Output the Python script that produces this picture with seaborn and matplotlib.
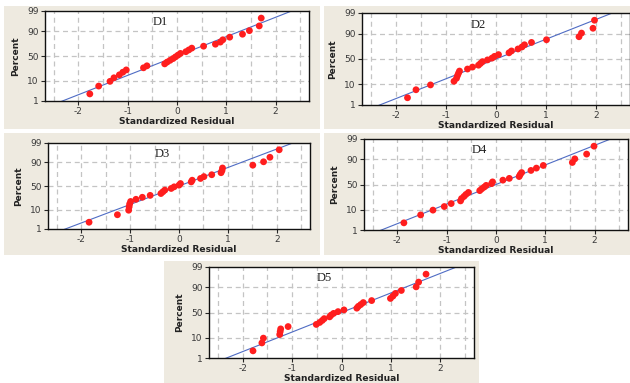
from statistics import NormalDist

import numpy as np
import pandas as pd
import seaborn as sns
from matplotlib import pyplot as plt
from matplotlib.patches import Rectangle

# plotting positions (percent) shared by all panels, 28 runs each
percent = [2.5, 6.0, 9.5, 13.0, 16.5, 20.1, 23.6, 27.1, 30.6, 34.2, 37.7, 41.2, 44.7, 48.2,
           51.8, 55.3, 58.8, 62.3, 65.8, 69.4, 72.9, 76.4, 79.9, 83.5, 87.0, 90.5, 94.0, 97.5]

# standardized residuals (sorted)
resid_d1 = [-1.77, -1.59, -1.36, -1.28, -1.17, -1.10, -1.03, -0.68, -0.61, -0.25, -0.20, -0.14, -0.08, -0.03,
            0.02, 0.07, 0.18, 0.24, 0.30, 0.54, 0.78, 0.88, 0.93, 1.07, 1.33, 1.47, 1.67, 1.71]
resid_d2 = [-1.77, -1.60, -1.31, -0.84, -0.79, -0.77, -0.75, -0.73, -0.57, -0.47, -0.35, -0.31, -0.27, -0.17,
            -0.08, -0.03, 0.05, 0.26, 0.31, 0.44, 0.52, 0.57, 0.71, 1.01, 1.66, 1.71, 1.94, 1.97]
resid_d3 = [-1.84, -1.26, -1.03, -1.02, -1.01, -0.99, -0.88, -0.75, -0.59, -0.37, -0.33, -0.29, -0.16, -0.10,
            0.00, 0.03, 0.25, 0.27, 0.44, 0.51, 0.67, 0.86, 0.88, 0.89, 1.51, 1.73, 1.86, 2.05]
resid_d4 = [-1.87, -1.53, -1.28, -1.05, -0.91, -0.72, -0.70, -0.65, -0.61, -0.56, -0.33, -0.29, -0.24, -0.20,
            -0.09, -0.07, 0.14, 0.27, 0.47, 0.49, 0.52, 0.71, 0.82, 0.96, 1.55, 1.60, 1.84, 1.99]
resid_d5 = [-1.79, -1.61, -1.58, -1.25, -1.24, -1.23, -1.08, -0.51, -0.44, -0.39, -0.35, -0.24, -0.21, -0.16,
            -0.07, 0.05, 0.31, 0.34, 0.39, 0.44, 0.61, 0.99, 1.04, 1.09, 1.21, 1.51, 1.56, 1.71]

panel_names = ["D1", "D2", "D3", "D4", "D5"]
residuals = [resid_d1, resid_d2, resid_d3, resid_d4, resid_d5]

# fitted normal line (standardized)
fit_mu = 0.0
fit_sd = 1.0

y_tick_pct = [1, 10, 50, 90, 99]
x_ticks = [-2, -1, 0, 1, 2]

# layout in pixels: (panel box x0, y0, x1, y1), (axes box x0, y0, x1, y1)
W, H = 630, 383
layout = [
    ((4, 6, 320, 129), (45, 11, 309, 101)),
    ((324, 6, 630, 129), (362, 13, 630, 105)),
    ((4, 133, 320, 255), (48, 143, 310, 229)),
    ((324, 133, 630, 255), (364, 139, 628, 230)),
    ((164, 261, 479, 383), (209, 267, 474, 358)),
]

PANEL_BG = "#EEEAE0"
RED = "#FF1E1E"
BLUE = "#4F6CC4"
GRID = "#C4C4C4"

sns.set_style("ticks")
plt.rcParams["font.family"] = ["DejaVu Sans"]

nd = NormalDist()


def to_z(p):
    return [nd.inv_cdf(v / 100.0) for v in p]


def fig_rect(x0, y0, x1, y1):
    return [x0 / W, 1 - y1 / H, (x1 - x0) / W, (y1 - y0) / H]


def draw_panel(fig, name, resid, panel_box, axes_box):
    r = fig_rect(*panel_box)
    fig.add_artist(Rectangle(r[:2], r[2], r[3], transform=fig.transFigure,
                             facecolor=PANEL_BG, edgecolor="none", zorder=0))
    ax = fig.add_axes(fig_rect(*axes_box))
    ax.set_facecolor("white")

    df = pd.DataFrame({"resid": resid, "z": to_z(percent)})
    xs = np.linspace(-2.68, 2.68, 50)
    line_df = pd.DataFrame({"x": xs, "z": (xs - fit_mu) / fit_sd})

    zt = to_z(y_tick_pct)
    # dashed grid: every half unit across, and at 10/50/90 percent
    for gx in np.arange(-2.5, 2.6, 0.5):
        ax.axvline(gx, color=GRID, lw=0.9, ls=(0, (4, 3)), zorder=1)
    for gz in zt[1:-1]:
        ax.axhline(gz, color=GRID, lw=0.9, ls=(0, (4, 3)), zorder=1)

    sns.lineplot(data=line_df, x="x", y="z", color=BLUE, lw=0.8, ax=ax, zorder=2)
    sns.scatterplot(data=df, x="resid", y="z", color=RED, s=24, edgecolor="none",
                    ax=ax, zorder=3)

    ax.set_ylim(zt[0], zt[-1])
    ax.set_xlim(-2.68, 2.68)
    ax.set_yticks(zt)
    ax.set_yticklabels([str(v) for v in y_tick_pct])
    ax.set_xticks(x_ticks)
    ax.set_xticklabels([str(v) for v in x_ticks])
    ax.tick_params(length=3, width=0.8, labelsize=6.5, labelcolor="#3a3a3a", pad=1.5)

    for sp in ax.spines.values():
        sp.set_color("#111111")
        sp.set_linewidth(1.0)
        sp.set_zorder(4)

    ax.set_xlabel("Standardized Residual", fontsize=6.6, fontweight="bold",
                  color="#222222", labelpad=0.5)
    ax.set_ylabel("Percent", fontsize=6.5, fontweight="bold", color="#222222",
                  labelpad=5)
    ax.text(0.435, 0.875, name, transform=ax.transAxes, ha="center", va="center",
            fontsize=9, family=["Liberation Serif"], color="#222222")
    return ax


fig = plt.figure(figsize=(6.3, 3.83), dpi=100)
fig.patch.set_facecolor("white")
for name, resid, (pbox, abox) in zip(panel_names, residuals, layout):
    draw_panel(fig, name, resid, pbox, abox)

fig.savefig("out.png", dpi=100)
